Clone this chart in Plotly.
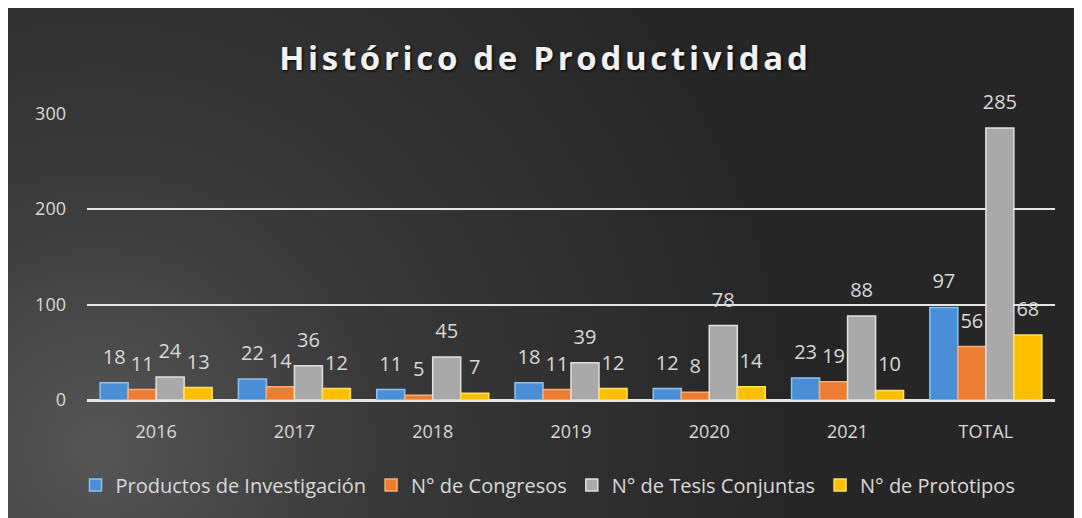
import base64
import plotly.graph_objects as go

categories = ["2016", "2017", "2018", "2019", "2020", "2021", "TOTAL"]
productos = [18, 22, 11, 18, 12, 23, 97]
congresos = [11, 14, 5, 11, 8, 19, 56]
tesis = [24, 36, 45, 39, 78, 88, 285]
prototipos = [13, 12, 7, 12, 14, 10, 68]
y_ticks = [0, 100, 200, 300]

series = [
    ("Productos de Investigación", productos, "#4a8fd6", "#8cc2f2"),
    ("N° de Congresos", congresos, "#ed7d31", "#f7ac78"),
    ("N° de Tesis Conjuntas", tesis, "#a9a9a9", "#e0e0e0"),
    ("N° de Prototipos", prototipos, "#fcc000", "#ffe066"),
]

W, H = 1082, 518
ML, MR, MT, MB = 79, 35, 105, 126
pw = W - ML - MR
ph = H - MT - MB

svg = f'''<svg xmlns="http://www.w3.org/2000/svg" width="{W}" height="{H}" viewBox="0 0 {W} {H}" preserveAspectRatio="none">
<defs><radialGradient id="g" cx="90" cy="440" r="700" gradientUnits="userSpaceOnUse">
<stop offset="0" stop-color="#565656"/><stop offset="0.4" stop-color="#393939"/><stop offset="1" stop-color="#262626"/>
</radialGradient></defs><rect width="{W}" height="{H}" fill="url(#g)"/></svg>'''
src = "data:image/svg+xml;base64," + base64.b64encode(svg.encode()).decode()

gap = "<span style='font-size:22px'>\u2009</span>"
title_text = gap.join("Histórico de Productividad")

fig = go.Figure()
for name, vals, col, edge in series:
    fig.add_trace(go.Bar(
        name=name, x=categories, y=vals,
        marker=dict(color=col, line=dict(color=edge, width=1.5)),
        text=[f"<span style='font-size:20px'>{v}</span><br> " for v in vals],
        textposition="outside", constraintext="none",
        textfont=dict(family="Open Sans, sans-serif", size=10, color="#d9d9d9"),
        cliponaxis=False,
    ))

fig.update_layout(
    width=W, height=H,
    margin=dict(l=ML, r=MR, t=MT, b=MB),
    paper_bgcolor="#2a2a2a", plot_bgcolor="rgba(0,0,0,0)",
    barmode="group", bargap=0.19, bargroupgap=0.0,
    title=dict(text="<b>" + title_text + "</b>", x=535.5 / W, xref="container", xanchor="center",
               y=1 - 50 / H, yref="container", yanchor="middle",
               font=dict(family="Open Sans, sans-serif", size=33, color="#f2f2f2",
                         shadow="1px 1px 3px #000")),
    font=dict(family="Open Sans, sans-serif", color="#d9d9d9"),
    showlegend=True,
    legend=dict(orientation="h", x=(540 - ML) / pw, xanchor="center", y=(392 - 477) / ph, yanchor="middle",
                font=dict(size=20, color="#d9d9d9"), bgcolor="rgba(0,0,0,0)",
                itemwidth=30, tracegroupgap=0),
    images=[dict(source=src, xref="paper", yref="paper",
                 x=-ML / pw, y=1 + MT / ph,
                 sizex=W / pw, sizey=H / ph,
                 xanchor="left", yanchor="top", sizing="stretch", layer="below")],
)
fig.update_xaxes(showgrid=False, showline=False, ticks="", tickfont=dict(size=18, color="#d9d9d9"),
                 ticklabelstandoff=19, automargin=False)
fig.update_yaxes(range=[0, 300.6], tickvals=y_ticks, showgrid=True, gridcolor="#e6e6e6", gridwidth=2,
                 zeroline=True, zerolinecolor="#e6e6e6", zerolinewidth=3,
                 tickfont=dict(size=18, color="#d9d9d9"), ticks="", ticklabelstandoff=20,
                 automargin=False)

fig.write_html("out.html")
